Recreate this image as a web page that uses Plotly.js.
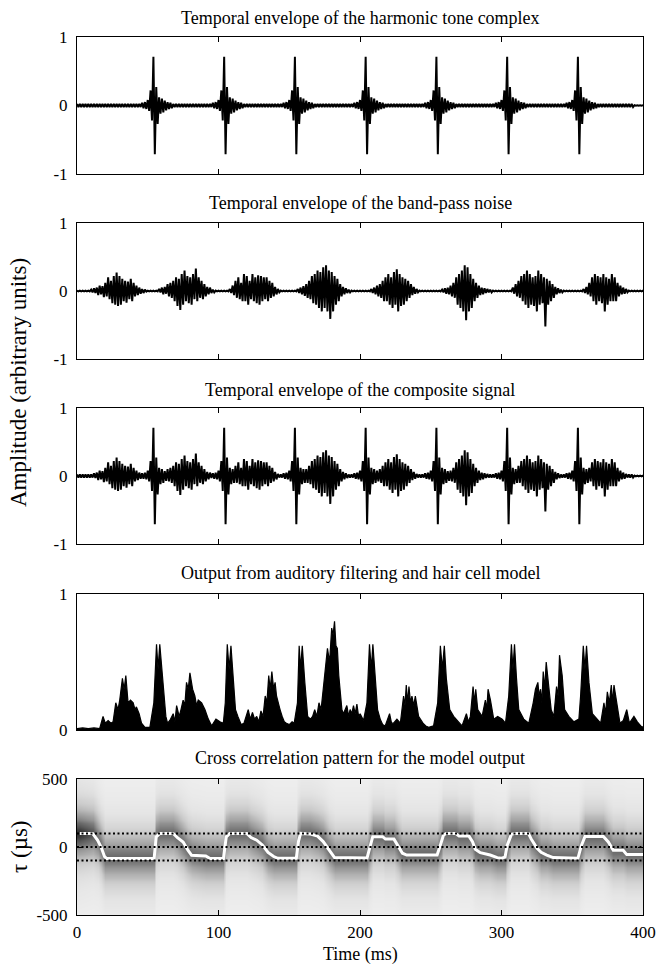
<!DOCTYPE html>
<html><head><meta charset="utf-8">
<script src="https://cdn.plot.ly/plotly-3.0.1.min.js"></script>
<style>html,body{margin:0;padding:0;background:#fff}#chart{width:667px;height:964px}</style>
</head><body><div id="chart"></div>
<script>
// ================= DATA =================
const timeRange = [0, 400];           // ms
const xTicks = [0, 100, 200, 300, 400];
const sampleStep = 2;                 // ms between successive read samples

// --- Panel 1: harmonic tone complex (symmetric envelope) ---
const toneSpikeTimes   = [54, 104, 154, 204, 254, 304, 354];
const toneSpikeOffsets = [-8, -6, -4, -2, 0, 2, 4, 6, 8, 10, 12];
const toneSpikeAmps    = [0.04, 0.05, 0.08, 0.22, 0.71, 0.27, 0.12, 0.1, 0.07, 0.05, 0.04];
const toneRippleAmp = 0.022;
const toneRippleEnd = 392;
const toneTailAmp = 0.004;

// --- Panel 2: band-pass noise bursts (upper / lower extremes every 2 ms) ---
const noiseFloor = 0.006;
const burstStarts = [10, 58, 108, 156, 208, 258, 308, 358];
const burstHi = [
  [.02,.04,.05,.08,.07,.12,.2,.15,.22,.27,.22,.18,.15,.14,.18,.12,.08,.05,.03,.02],
  [.03,.05,.06,.1,.12,.15,.2,.18,.25,.3,.22,.2,.25,.33,.2,.15,.1,.06,.05,.02],
  [.03,.08,.15,.2,.12,.25,.22,.15,.25,.2,.23,.22,.2,.2,.15,.12,.06,.03],
  [.03,.05,.07,.1,.15,.22,.25,.3,.28,.35,.38,.3,.28,.22,.18,.1,.06,.04,.02],
  [.03,.05,.08,.1,.15,.2,.25,.2,.28,.32,.25,.2,.18,.15,.1,.06,.03],
  [.02,.04,.05,.08,.12,.2,.25,.3,.38,.35,.25,.18,.12,.08,.05,.04,.03,.02],
  [.05,.1,.15,.22,.25,.3,.25,.2,.22,.3,.25,.2,.18,.15,.1,.06,.04,.02],
  [.03,.06,.12,.2,.25,.22,.2,.25,.2,.18,.25,.2,.12,.08,.05,.03]
];
const burstLo = [
  [-.02,-.03,-.06,-.05,-.09,-.08,-.12,-.18,-.2,-.22,-.2,-.15,-.17,-.12,-.15,-.08,-.06,-.04,-.03,-.01],
  [-.02,-.05,-.04,-.08,-.1,-.15,-.22,-.28,-.2,-.15,-.18,-.2,-.12,-.15,-.1,-.12,-.08,-.05,-.03,-.02],
  [-.03,-.06,-.1,-.12,-.15,-.15,-.2,-.12,-.15,-.18,-.2,-.15,-.12,-.15,-.1,-.08,-.05,-.02],
  [-.03,-.05,-.07,-.1,-.12,-.18,-.2,-.25,-.3,-.25,-.3,-.41,-.3,-.2,-.15,-.08,-.05,-.03,-.02],
  [-.03,-.05,-.08,-.1,-.15,-.15,-.2,-.25,-.2,-.3,-.22,-.2,-.15,-.1,-.06,-.04,-.02],
  [-.02,-.04,-.05,-.08,-.1,-.2,-.25,-.3,-.43,-.3,-.25,-.15,-.1,-.06,-.05,-.03,-.02,-.02],
  [-.04,-.08,-.1,-.15,-.2,-.25,-.2,-.22,-.3,-.2,-.18,-.52,-.2,-.15,-.1,-.05,-.03,-.02],
  [-.03,-.05,-.08,-.15,-.2,-.15,-.18,-.3,-.2,-.15,-.15,-.15,-.08,-.05,-.04,-.02]
];

// --- Panel 4: hair-cell model output (local maxima / minima of the envelope) ---
const hairT = [0,4,8,12,16,18.4,20,22,24,25.5,27.4,29,30.2,32.1,33.3,34.5,36.1,37.8,39.7,41,42,43.9,45.6,48,51.5,
  54.3,56.2,57.3,58.5,59.5,60.9,62.8,64,65.6,68,69.2,70.4,72.2,73.5,75,76.2,77.4,78.6,79.8,81.7,83.3,84.5,85.7,88.1,90.4,92.8,95.2,98.2,101,
  103.4,104.8,106.2,107.5,108.8,110.4,112,113.7,116,118,121,122.5,124,125.5,127,128.5,130,131.5,133,134.2,135.5,136.5,137.7,139,140,141,142,143.5,145,146.5,148,150,152,
  153.5,155.8,157,158,159.2,161,163,165,166.5,168,169.5,171,172.5,174,175.5,177,178.5,180,181,182,183,184,185,186,187.2,188.3,189.5,190.7,192,193,194.2,195.4,196.6,197.8,199,200.1,
  202.5,204.9,206.7,208,209.1,210.8,212.4,214.3,216,217.8,220.9,222.3,223.7,226.1,228.5,230.8,231.8,232.7,233.7,234.6,235.7,236.7,238,239.1,241.4,244.5,246.5,248.5,
  252,254.9,256.8,258.2,259.6,261,263.4,266.2,268.6,272.1,275.2,276.6,278,279.9,281,281.8,283.2,286.3,288.6,289.6,290.5,292.2,294.5,297.3,300.5,
  302.8,305.1,307,308.1,309.2,310.6,312.2,315.7,319.3,322.4,324,325.7,326.6,327.6,328.5,329.5,330.5,331.6,333.4,335.1,337,338.9,340,341,342.9,344.6,347.6,351.2,
  354.7,355.9,357.8,359,360.1,361.8,364.2,367.2,370.1,372.4,373.5,374.8,376.2,377.6,378.5,379.5,381.4,383.7,386.1,388.5,390.4,393.6,396,398.4,400];
const hairV = [0.01,0.015,0.01,0.015,0.01,0.1,0.05,0.07,0.05,0.06,0.2,0.15,0.22,0.38,0.3,0.4,0.2,0.22,0.2,0.15,0.17,0.12,0.05,0.02,0.02,
  0.2,0.63,0.45,0.63,0.5,0.35,0.1,0.05,0.07,0.12,0.06,0.18,0.1,0.15,0.22,0.18,0.35,0.3,0.42,0.3,0.25,0.18,0.22,0.2,0.15,0.08,0.03,0.08,0.06,
  0.05,0.2,0.63,0.45,0.62,0.35,0.15,0.1,0.04,0.05,0.15,0.08,0.13,0.08,0.1,0.06,0.14,0.1,0.25,0.2,0.4,0.3,0.43,0.3,0.35,0.25,0.2,0.15,0.1,0.06,0.05,0.04,0.06,
  0.05,0.2,0.62,0.45,0.62,0.35,0.1,0.08,0.1,0.15,0.1,0.2,0.15,0.3,0.45,0.6,0.5,0.75,0.7,0.8,0.62,0.6,0.4,0.3,0.15,0.12,0.15,0.18,0.1,0.15,0.12,0.18,0.12,0.19,0.1,0.12,
  0.07,0.2,0.63,0.45,0.63,0.38,0.15,0.08,0.04,0.03,0.12,0.05,0.05,0.08,0.05,0.25,0.18,0.33,0.2,0.32,0.2,0.25,0.18,0.25,0.1,0.05,0.03,0.02,
  0.03,0.2,0.62,0.45,0.62,0.38,0.15,0.1,0.07,0.03,0.12,0.06,0.1,0.32,0.2,0.3,0.15,0.1,0.22,0.15,0.3,0.22,0.08,0.1,0.08,
  0.05,0.25,0.63,0.45,0.63,0.38,0.15,0.08,0.05,0.2,0.3,0.35,0.25,0.3,0.2,0.43,0.3,0.5,0.33,0.15,0.1,0.32,0.25,0.55,0.4,0.15,0.1,0.06,
  0.08,0.25,0.62,0.45,0.62,0.35,0.12,0.08,0.05,0.2,0.12,0.28,0.2,0.33,0.2,0.33,0.2,0.05,0.07,0.15,0.05,0.1,0.06,0.03,0.02];

// --- Panel 5: cross-correlation maximum track (white line) ---
const lineT = [2,11,14.5,17,19.5,21,54.5,56,58.5,68,71,75,78.5,81,91,94,103.5,105.5,108,120,123,127,131,135,139,142,
  155,156.5,158,165,170,174,178,182,205,207,209,216,218,224,227,230,233,254.5,257,259,261,267.5,270,277,279.5,281.5,285,288.5,292,297,300,302.5,
  304,307,309.5,319,321,325,328,332,336.5,354,356.5,359,372,375.5,379,386,388.5,400];
const lineTau = [100,100,51,0,-71,-85,-85,75,100,100,68,36,-25,-61,-66,-85,-85,75,100,100,70,50,15,-40,-70,-83,
  -83,40,100,95,80,40,-20,-78,-80,10,76,76,58,58,2,-46,-59,-59,20,88,100,100,80,80,39,-17,-42,-51,-59,-78,-83,-75,
  12,93,100,100,59,-7,-39,-59,-78,-83,12,78,78,37,-24,-24,-56,-56];
// darkness of the correlation pattern vs distance (µs, steps of 25) from the maximum
const corrProfileStep = 25;
const corrProfile = [0.74, 0.7, 0.64, 0.57, 0.49, 0.42, 0.36, 0.3, 0.25, 0.21, 0.18, 0.15, 0.13, 0.11, 0.1, 0.09,
  0.08, 0.07, 0.065, 0.06, 0.055, 0.05, 0.045, 0.04, 0.035];
const heatGainT = [2, 11];
const heatGainV = [1.3, 1.12];
const refTau = [100, 0, -100];
const tauRange = [-500, 500];
const tauStep = 25;

// ================= BUILD =================
const grid = [];
for (let t = timeRange[0]; t <= timeRange[1]; t += sampleStep) grid.push(t);

function toneAmpAt(t) {
  let a = t <= toneRippleEnd ? toneRippleAmp : toneTailAmp;
  toneSpikeTimes.forEach(s => {
    const k = toneSpikeOffsets.indexOf(t - s);
    if (k >= 0) a = Math.max(a, toneSpikeAmps[k]);
  });
  return a;
}
function noiseAt(t) {
  let hi = noiseFloor, lo = -noiseFloor;
  burstStarts.forEach((s, b) => {
    const k = (t - s) / sampleStep;
    if (Number.isInteger(k) && k >= 0 && k < burstHi[b].length) { hi = burstHi[b][k]; lo = burstLo[b][k]; }
  });
  return [hi, lo];
}
const toneHi = grid.map(toneAmpAt), toneLo = toneHi.map(v => -v);
const noiseHi = grid.map(t => noiseAt(t)[0]), noiseLo = grid.map(t => noiseAt(t)[1]);
const compHi = grid.map((t, i) => Math.max(toneHi[i], noiseHi[i]));
const compLo = grid.map((t, i) => Math.min(toneLo[i], noiseLo[i]));

function zigzag(hi, lo) {
  const x = [], y = [];
  grid.forEach((t, i) => { x.push(t, t + sampleStep / 2); y.push(hi[i], lo[i]); });
  return {x, y};
}

const tauRows = [];
for (let v = tauRange[0]; v <= tauRange[1]; v += tauStep) tauRows.push(v);
const heatZ = tauRows.map(tau => lineT.map((t, c) => {
  const d = Math.min(Math.round(Math.abs(tau - lineTau[c]) / corrProfileStep), corrProfile.length - 1);
  const gi = heatGainT.indexOf(t);
  const g = gi >= 0 ? heatGainV[gi] : 1;
  return Math.min(1, g * corrProfile[d]);
}));

const z1 = zigzag(toneHi, toneLo), z2 = zigzag(noiseHi, noiseLo), z3 = zigzag(compHi, compLo);
const blk = {color: '#000', width: 2};
const traces = [
  {type: 'scatter', mode: 'lines', x: z1.x, y: z1.y, line: blk, xaxis: 'x', yaxis: 'y', hoverinfo: 'skip'},
  {type: 'scatter', mode: 'lines', x: z2.x, y: z2.y, line: blk, xaxis: 'x2', yaxis: 'y2', hoverinfo: 'skip'},
  {type: 'scatter', mode: 'lines', x: z3.x, y: z3.y, line: blk, xaxis: 'x3', yaxis: 'y3', hoverinfo: 'skip'},
  {type: 'scatter', mode: 'lines', x: hairT, y: hairV, line: {color: '#000', width: 1.2}, fill: 'tozeroy', fillcolor: '#000',
   xaxis: 'x4', yaxis: 'y4', hoverinfo: 'skip'},
  {type: 'heatmap', x: lineT, y: tauRows, z: heatZ, zmin: 0, zmax: 1, zsmooth: 'best', showscale: false,
   colorscale: [[0, '#f3f3f3'], [0.1, '#e6e6e6'], [0.3, '#c8c8c8'], [0.55, '#969696'], [0.8, '#5a5a5a'], [1, '#222222']],
   xaxis: 'x5', yaxis: 'y5', hoverinfo: 'skip'},
  {type: 'scatter', mode: 'lines', x: lineT, y: lineTau, line: {color: '#fff', width: 3}, xaxis: 'x5', yaxis: 'y5', hoverinfo: 'skip'}
];

// ================= LAYOUT =================
const W = 667, H = 964;
const xDom = [77 / W, 643 / W];
const py = Y => 1 - Y / H;
const serif = 'Liberation Serif, Times New Roman, serif';
const tickFont = {family: serif, size: 17, color: '#000'};
function xAx(anchor, labels) {
  return {domain: xDom, range: timeRange, anchor, tickmode: 'array', tickvals: xTicks, showticklabels: labels,
    ticks: 'inside', ticklen: 5, tickcolor: '#000', showline: true, linecolor: '#000', linewidth: 1, mirror: 'ticks',
    showgrid: false, zeroline: false, fixedrange: true, tickfont: tickFont, ticklabelstandoff: 2};
}
function yAx(anchor, top, bottom, range, vals) {
  return {domain: [py(bottom), py(top)], range, anchor, tickmode: 'array', tickvals: vals, ticktext: vals.map(String),
    ticks: 'inside', ticklen: 5, tickcolor: '#000', showline: true, linecolor: '#000', linewidth: 1, mirror: 'ticks',
    showgrid: false, zeroline: false, fixedrange: true, tickfont: tickFont, ticklabelstandoff: 5};
}
const titleFont = {family: serif, size: 18, color: '#000'};
const labelFont = {family: serif, size: 23, color: '#000'};
const xc = (xDom[0] + xDom[1]) / 2;
function ann(text, x, Y, angle, font) {
  return {text, x, y: py(Y), xref: 'paper', yref: 'paper', showarrow: false, xanchor: 'center', yanchor: 'middle',
    textangle: angle || 0, font: font || titleFont};
}
const layout = {
  width: W, height: H, margin: {l: 0, r: 0, t: 0, b: 0}, paper_bgcolor: '#fff', plot_bgcolor: '#fff',
  showlegend: false, font: tickFont,
  xaxis: xAx('y', false), xaxis2: xAx('y2', false), xaxis3: xAx('y3', false), xaxis4: xAx('y4', false), xaxis5: xAx('y5', true),
  yaxis: yAx('x', 37, 174, [-1, 1], [-1, 0, 1]),
  yaxis2: yAx('x2', 223, 359, [-1, 1], [-1, 0, 1]),
  yaxis3: yAx('x3', 408, 544, [-1, 1], [-1, 0, 1]),
  yaxis4: yAx('x4', 594, 730, [0, 1], [0, 1]),
  yaxis5: yAx('x5', 779, 915, tauRange, [-500, 0, 500]),
  shapes: refTau.map(v => ({type: 'line', xref: 'x5', yref: 'y5', x0: timeRange[0], x1: timeRange[1], y0: v, y1: v,
    line: {color: '#000', width: 2, dash: '2px,2.5px'}, layer: 'above'})),
  annotations: [
    ann('Temporal envelope of the harmonic tone complex', xc, 18),
    ann('Temporal envelope of the band-pass noise', xc, 203),
    ann('Temporal envelope of the composite signal', xc, 390),
    ann('Output from auditory filtering and hair cell model', xc, 573),
    ann('Cross correlation pattern for the model output', xc, 758),
    ann('Time (ms)', xc, 954),
    ann('Amplitude (arbitrary units)', 19 / W, 383, -90, labelFont),
    ann('τ (µs)', 19 / W, 847, -90, labelFont)
  ]
};
Plotly.newPlot('chart', traces, layout, {staticPlot: true, displayModeBar: false});
</script>
</body></html>
